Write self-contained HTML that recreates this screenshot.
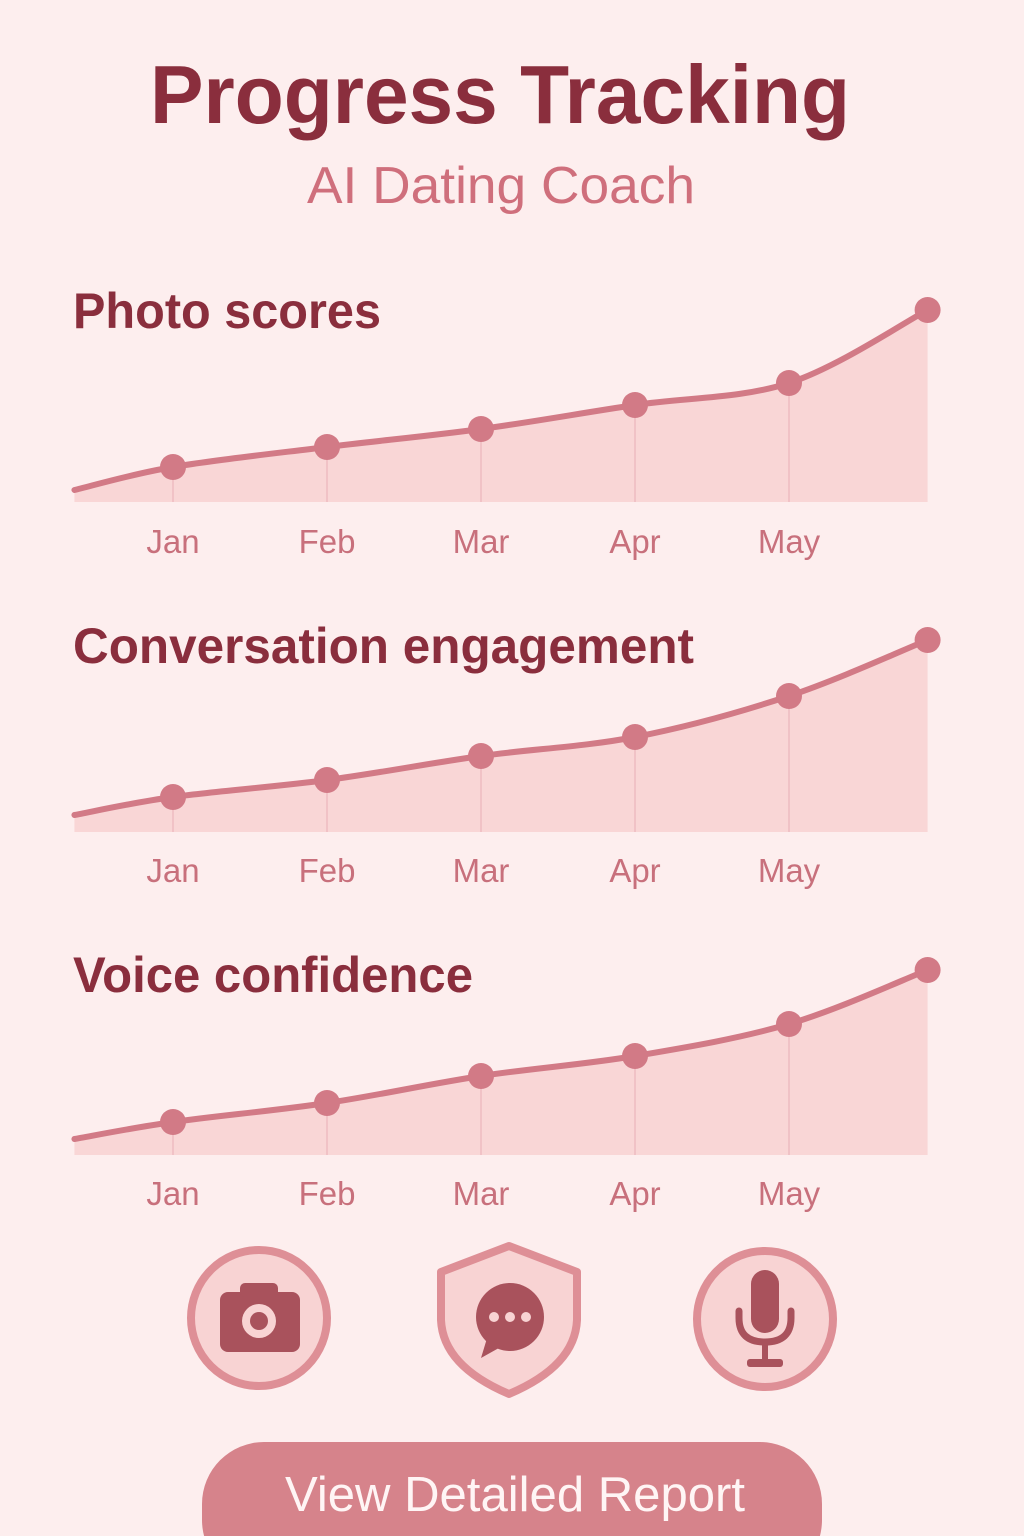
<!DOCTYPE html>
<html><head><meta charset="utf-8"><style>
html,body{margin:0;padding:0;background:#fdeeee;}
svg{display:block;font-family:"Liberation Sans",sans-serif;}
</style></head><body>
<svg id="root" width="1024" height="1536" viewBox="0 0 1024 1536">
<rect width="1024" height="1536" fill="#fdeeee"/>
<text x="500" y="123" text-anchor="middle" font-size="83" font-weight="bold" fill="#8a2e3d" textLength="700" lengthAdjust="spacingAndGlyphs">Progress Tracking</text>
<text x="501" y="203" text-anchor="middle" font-size="52" fill="#cf6f7c" textLength="388" lengthAdjust="spacingAndGlyphs">AI Dating Coach</text>
<g id="charts"></g>
<!-- icons -->
<g>
<ellipse cx="259" cy="1318" rx="68" ry="68" fill="#f8d3d3" stroke="#de8f96" stroke-width="8"/>
<rect x="220" y="1292" width="80" height="60" rx="8" fill="#a9525c"/>
<rect x="240" y="1283" width="38" height="14" rx="5" fill="#a9525c"/>
<circle cx="259" cy="1321" r="17" fill="#f8d3d3"/>
<circle cx="259" cy="1321" r="9" fill="#a9525c"/>
</g>
<g>
<path d="M509 1246 L577 1272 L577 1320 Q575 1366 509 1394 Q443 1366 441 1320 L441 1272 Z" fill="#f8d3d3" stroke="#de8f96" stroke-width="8" stroke-linejoin="round"/>
<circle cx="510" cy="1317" r="34" fill="#a9525c"/>
<path d="M488 1335 L481 1358 L506 1344 Z" fill="#a9525c"/>
<circle cx="494" cy="1317" r="5" fill="#f8d3d3"/><circle cx="510" cy="1317" r="5" fill="#f8d3d3"/><circle cx="526" cy="1317" r="5" fill="#f8d3d3"/>
</g>
<g>
<ellipse cx="765" cy="1319" rx="68" ry="68" fill="#f8d3d3" stroke="#de8f96" stroke-width="8"/>
<rect x="751" y="1270" width="28" height="63" rx="14" fill="#a9525c"/>
<path d="M739 1311 L739 1318 Q739 1342 765 1342 Q791 1342 791 1318 L791 1311" fill="none" stroke="#a9525c" stroke-width="7" stroke-linecap="round"/>
<line x1="765" y1="1342" x2="765" y2="1362" stroke="#a9525c" stroke-width="6"/>
<rect x="747" y="1359" width="36" height="8" rx="3" fill="#a9525c"/>
</g>
<g>
<rect x="202" y="1442" width="620" height="140" rx="62" fill="#d6838b"/>
<text x="515" y="1511" text-anchor="middle" font-size="49" fill="#fff5f5" textLength="460" lengthAdjust="spacingAndGlyphs">View Detailed Report</text>
</g>
</svg>
<script>
const months = ["Jan","Feb","Mar","Apr","May"];
const monthPos = [0.36,1,2,3,4,5,5.9];
const photoScores = [6,17.5,27.5,36.5,48.5,59.5,96];
const conversationScores = [8.5,17.5,26,38,47.5,68,96];
const voiceScores = [8,16.5,26,39.5,49.5,65.5,92.5];
const chartTitles = ["Photo scores","Conversation engagement","Voice confidence"];

const NS="http://www.w3.org/2000/svg";
const g=document.getElementById('charts');
function mk(tag,attrs,parent){const e=document.createElementNS(NS,tag);for(const k in attrs)e.setAttribute(k,attrs[k]);parent.appendChild(e);return e;}
function xScale(m){return 173+(m-1)*154;}
function makeY(base){return v=>base-v*2;}
function smooth(pts){let d=`M${pts[0][0]},${pts[0][1]}`;for(let i=0;i<pts.length-1;i++){const p0=pts[i-1]||pts[i],p1=pts[i],p2=pts[i+1],p3=pts[i+2]||p2;const t=6;d+=` C${p1[0]+(p2[0]-p0[0])/t},${p1[1]+(p2[1]-p0[1])/t} ${p2[0]-(p3[0]-p1[0])/t},${p2[1]-(p3[1]-p1[1])/t} ${p2[0]},${p2[1]}`;}return d;}
const series=[photoScores,conversationScores,voiceScores];
const bases=[502,832,1155];
const titleY=[328,663,992];
const titleW=[308,621,400];
const labelY=[553,882,1205];
series.forEach((vals,ci)=>{
  const base=bases[ci],y=makeY(base);
  const cg=mk('g',{},g);
  
  
  const t=mk('text',{x:73,y:titleY[ci],'font-size':50,'font-weight':'bold',fill:'#8a2e3d',textLength:titleW[ci],lengthAdjust:'spacingAndGlyphs'},cg);
  t.textContent=chartTitles[ci];
  
  
  const pts=vals.map((v,i)=>[xScale(monthPos[i]),y(v)]);
  const line=smooth(pts);
  const last=pts[pts.length-1];
  const area=mk('path',{d:line+` L${last[0]},${base} L${pts[0][0]},${base} Z`,fill:'#f9d6d6'},cg);
  
  
  for(let i=1;i<=months.length;i++){
    const gl=mk('line',{x1:pts[i][0],x2:pts[i][0],y1:pts[i][1],y2:base,stroke:'#eebcc0','stroke-width':1.5},cg);
    
    
  }
  const ln=mk('path',{d:line,fill:'none',stroke:'#d27a86','stroke-width':6,'stroke-linecap':'round'},cg);
  
  
  pts.forEach((p,i)=>{
    if(i===0)return;
    const c=mk('circle',{cx:p[0],cy:p[1],r:13,fill:'#d27a86'},cg);
    
    
  });
  months.forEach((m,i)=>{
    const lt=mk('text',{x:xScale(i+1),y:labelY[ci],'text-anchor':'middle','font-size':33,fill:'#c8707c'},cg);
    lt.textContent=m;
    
    
  });
});
</script>
</body></html>
